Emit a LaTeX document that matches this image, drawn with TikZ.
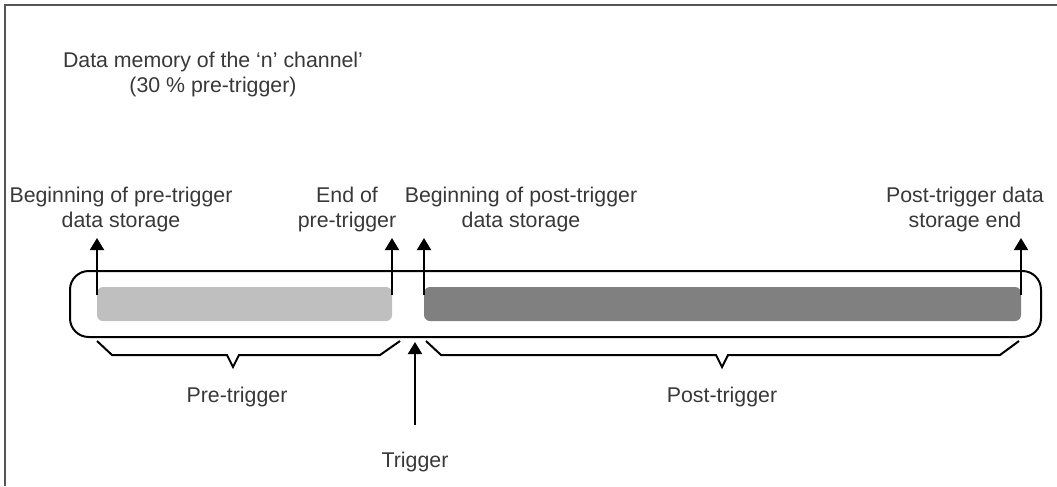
\documentclass[tikz,border=0pt]{standalone}
\usepackage{fontspec}
\setmainfont{Liberation Sans}
\usetikzlibrary{arrows.meta}
\definecolor{memink}{HTML}{383838}
\definecolor{memlight}{HTML}{BFBFBF}
\definecolor{memdark}{HTML}{808080}
\definecolor{memframe}{HTML}{555555}
\tikzset{
  lbl/.style={font=\fontsize{16}{18.75}\selectfont,text=memink,align=center,inner sep=0pt},
  bar/.style={rounded corners=4.5pt,draw=none,inner sep=0pt,minimum height=25.5pt},
  ptr/.style={-{Triangle[length=9pt,width=10.5pt]},line width=1.5pt},
  brc/.style={line width=1.5pt,line join=miter},
}
\begin{document}
\begin{tikzpicture}[x=0.75pt,y=-0.75pt]
  \useasboundingbox (0,0) rectangle (1057,486);
  % frame
  \draw[memframe,line width=1.5pt] (5,486) -- (5,5) -- (1057,5);

  \node[lbl] (title) at (213,74) {Data memory of the ‘n’ channel’\\(30 \% pre-trigger)};

  % memory block
  \node[draw,line width=1.5pt,rounded corners=14pt,minimum width=728.25pt,minimum height=49.5pt,inner sep=0pt] (mem) at (555.5,304) {};
  \node[bar,fill=memlight,minimum width=221.25pt] (prebar) at (244.5,304) {};
  \node[bar,fill=memdark,minimum width=447.75pt] (postbar) at (722.5,304) {};

  % labels
  \node[lbl] (begpre) at (121,209) {Beginning of pre-trigger\\data storage};
  \node[lbl] (endpre) at (347,209) {End of\\pre-trigger};
  \node[lbl] (begpost) at (521,209) {Beginning of post-trigger\\data storage};
  \node[lbl] (endpost) at (965,209) {Post-trigger data\\storage end};
  \node[lbl] (pre) at (237,397) {Pre-trigger};
  \node[lbl] (post) at (722,397) {Post-trigger};
  \node[lbl] (trig) at (415,462) {Trigger};

  % arrow ends
  \coordinate (a1) at (97,295);   \coordinate (t1) at (97,238);
  \coordinate (a2) at (392,295);  \coordinate (t2) at (392,238);
  \coordinate (a3) at (424,295);  \coordinate (t3) at (424,238);
  \coordinate (a4) at (1021,295); \coordinate (t4) at (1021,238);
  \coordinate (a5) at (415,425);  \coordinate (t5) at (415,342);
  \draw[ptr] (a1) -- (t1);
  \draw[ptr] (a2) -- (t2);
  \draw[ptr] (a3) -- (t3);
  \draw[ptr] (a4) -- (t4);
  \draw[ptr] (a5) -- (t5);

  % braces
  \draw[brc] (97,341) -- (112,355) -- (227,355) -- (233,367) -- (239,355) -- (380,355) -- (400,341);
  \draw[brc] (426,341) -- (441,355) -- (716,355) -- (722,367) -- (728,355) -- (1000,355) -- (1019,341);
\end{tikzpicture}
\end{document}
